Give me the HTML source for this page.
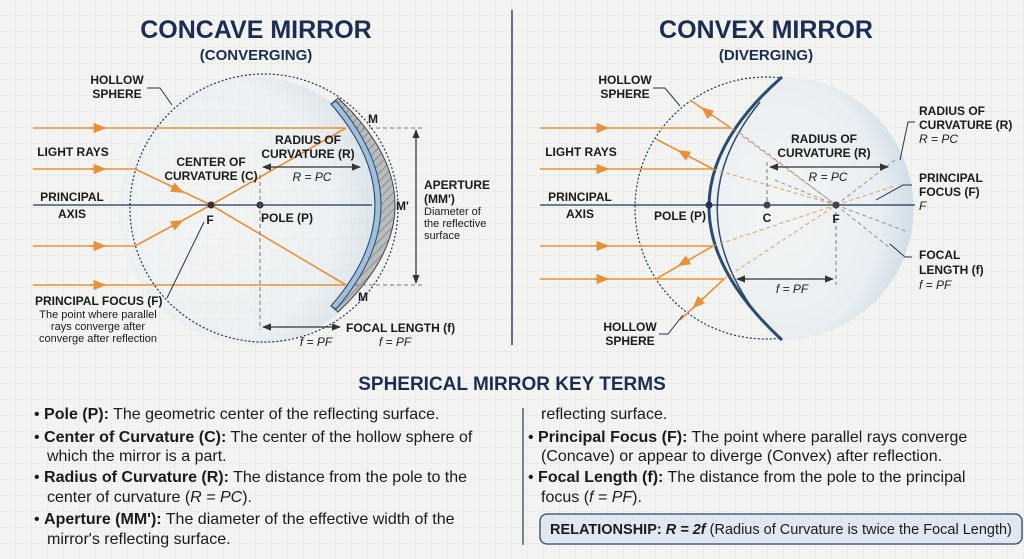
<!DOCTYPE html>
<html><head><meta charset="utf-8"><style>
html,body{margin:0;padding:0;width:1024px;height:559px;overflow:hidden;background:#f3f4f1}
svg{display:block}
text{font-family:"Liberation Sans",sans-serif}
.b{font-weight:bold}
.n{font-family:"Liberation Sans Narrow","Liberation Sans",sans-serif}
</style></head><body>
<svg width="1024" height="559" viewBox="0 0 1024 559" xmlns="http://www.w3.org/2000/svg">
<defs>
<pattern id="g" width="16" height="16" patternUnits="userSpaceOnUse"><path d="M16 0V16H0" fill="none" stroke="#e2e5e4" stroke-width="1"/></pattern>
<pattern id="h" width="6" height="6" patternUnits="userSpaceOnUse" patternTransform="rotate(45)"><rect width="6" height="6" fill="#b9bcbf"/><line x1="0" y1="0" x2="0" y2="6" stroke="#6b6e72" stroke-width="1.2"/></pattern>
<radialGradient id="lg" cx="0.35" cy="0.5" r="0.7"><stop offset="0" stop-color="#f3f5f4"/><stop offset="0.7" stop-color="#e9eef2"/><stop offset="1" stop-color="#c9d7e2"/></radialGradient>
<marker id="a" viewBox="0 0 10 10" refX="5" refY="5" markerWidth="8" markerHeight="8" orient="auto"><path d="M0 1L10 5L0 9z" fill="#e8913a"/></marker>
<marker id="k" viewBox="0 0 10 10" refX="9" refY="5" markerWidth="7" markerHeight="7" orient="auto-start-reverse"><path d="M0 1L10 5L0 9z" fill="#333"/></marker>
</defs>
<rect width="1024" height="559" fill="url(#g)"/>

<!-- titles -->
<text x="256" y="38" text-anchor="middle" class="b" font-size="25" fill="#1b2e52">CONCAVE MIRROR</text>
<text x="256" y="60" text-anchor="middle" class="b" font-size="15" fill="#1b2e52">(CONVERGING)</text>
<text x="766" y="38" text-anchor="middle" class="b" font-size="25" fill="#1b2e52">CONVEX MIRROR</text>
<text x="766" y="60" text-anchor="middle" class="b" font-size="15" fill="#1b2e52">(DIVERGING)</text>
<line x1="512" y1="10" x2="512" y2="345" stroke="#2f4563" stroke-width="1.5"/>

<!-- LEFT PANEL -->
<path d="M335 105 Q419 205 340 312 A134 134 0 1 1 335 105z" fill="url(#lg)" opacity="0.7"/>
<circle cx="264" cy="208" r="134" fill="none" stroke="#1e3556" stroke-width="1.2" stroke-dasharray="2 2"/>
<path d="M331 104 Q419 205 331 306 L338 312 Q452 205 338 98z" fill="url(#h)" stroke="#444" stroke-width="1"/>
<path d="M331 104 Q419 205 331 306 L336 309 Q426 205 336 101z" fill="#9ec0dc" stroke="#2c4a6c" stroke-width="1"/>
<line x1="33" y1="205" x2="372" y2="205" stroke="#1e3556" stroke-width="1.3"/>
<g stroke="#e8913a" stroke-width="1.6" fill="none">
<line x1="33" y1="128" x2="346" y2="128"/>
<line x1="33" y1="169" x2="135" y2="169"/>
<line x1="33" y1="246" x2="135" y2="246"/>
<line x1="33" y1="285" x2="346" y2="285"/>
<path d="M135 169 L211 205 L346 285"/>
<path d="M135 246 L211 205 L346 128"/>
</g>
<g stroke="#e8913a" stroke-width="1.6"><line x1="90" y1="128" x2="100" y2="128" marker-end="url(#a)"/><line x1="90" y1="169" x2="100" y2="169" marker-end="url(#a)"/><line x1="90" y1="246" x2="100" y2="246" marker-end="url(#a)"/><line x1="90" y1="285" x2="100" y2="285" marker-end="url(#a)"/><line x1="170" y1="186" x2="178" y2="190" marker-end="url(#a)"/><line x1="170" y1="227" x2="178" y2="223" marker-end="url(#a)"/></g>
<circle cx="211" cy="205" r="3.5" fill="#333"/><circle cx="260" cy="205" r="3.5" fill="#333"/>
<line x1="260" y1="175" x2="260" y2="330" stroke="#777" stroke-dasharray="4 3"/>
<line x1="263" y1="167" x2="360" y2="167" stroke="#333" stroke-width="1.3" marker-start="url(#k)" marker-end="url(#k)"/>
<line x1="263" y1="327" x2="340" y2="327" stroke="#333" stroke-width="1.3" marker-start="url(#k)" marker-end="url(#k)"/>
<g stroke="#777" stroke-dasharray="4 3"><line x1="355" y1="128" x2="422" y2="128"/><line x1="355" y1="285" x2="422" y2="285"/></g>
<line x1="416" y1="130" x2="416" y2="283" stroke="#333" stroke-width="1.3" marker-start="url(#k)" marker-end="url(#k)"/>
<path d="M147 88 L160 88 L172 105" fill="none" stroke="#1e3556"/>
<path d="M204 222 L167 298" fill="none" stroke="#1e3556"/>
<g class="b" font-size="12" fill="#1a1a1a">
<text x="117" y="84" text-anchor="middle">HOLLOW</text><text x="117" y="98" text-anchor="middle">SPHERE</text>
<text x="73" y="156" text-anchor="middle">LIGHT RAYS</text>
<text x="72" y="201" text-anchor="middle">PRINCIPAL</text><text x="72" y="218" text-anchor="middle">AXIS</text>
<text x="211" y="166" text-anchor="middle">CENTER OF</text><text x="211" y="180" text-anchor="middle">CURVATURE (C)</text>
<text x="308" y="144" text-anchor="middle">RADIUS OF</text><text x="308" y="158" text-anchor="middle">CURVATURE (R)</text>
<text x="210" y="224" text-anchor="middle">F</text>
<text x="261" y="222">POLE (P)</text>
<text x="368" y="123">M</text><text x="396" y="210">M'</text><text x="358" y="301">M</text>
<text x="424" y="189">APERTURE</text><text x="424" y="203">(MM')</text>
<text x="35" y="305">PRINCIPAL FOCUS (F)</text>
<text x="346" y="332">FOCAL LENGTH (f)</text>
</g>
<g font-size="11" fill="#1a1a1a"><text x="424" y="215">Diameter of</text><text x="424" y="227">the reflective</text><text x="424" y="239">surface</text>
<text x="98" y="318" text-anchor="middle">The point where parallel</text><text x="98" y="330" text-anchor="middle">rays converge after</text><text x="98" y="342" text-anchor="middle">converge after reflection</text></g>
<g font-size="12" font-style="italic" fill="#1a1a1a"><text x="312" y="181" text-anchor="middle">R = PC</text><text x="316" y="346" text-anchor="middle">f = PF</text><text x="395" y="346" text-anchor="middle">f = PF</text></g>

<!-- RIGHT PANEL -->
<circle cx="766" cy="208" r="131" fill="none" stroke="#1e3556" stroke-width="1.2" stroke-dasharray="2 2"/>
<path d="M782 77 Q636 205 782 340 A131 131 0 0 0 782 77z" fill="url(#lg)"/>
<path d="M782 77 Q636 205 782 340" fill="none" stroke="#2c4a6c" stroke-width="3"/>
<path d="M760 102 Q676 205 757 315" fill="none" stroke="#2c4a6c" stroke-width="1.5"/>
<line x1="540" y1="205" x2="915" y2="205" stroke="#1e3556" stroke-width="1.3"/>
<g stroke="#e8913a" stroke-width="1.6" fill="none">
<line x1="540" y1="128" x2="731" y2="128"/><line x1="540" y1="169" x2="713" y2="169"/>
<line x1="540" y1="246" x2="713" y2="246"/><line x1="540" y1="279" x2="724" y2="279"/>
<line x1="731" y1="128" x2="690" y2="100"/><line x1="713" y1="169" x2="656" y2="139"/>
<line x1="713" y1="246" x2="656" y2="279"/><line x1="724" y1="279" x2="680" y2="320"/>
</g>
<g stroke="#e8913a" stroke-width="1.6"><line x1="595" y1="128" x2="603" y2="128" marker-end="url(#a)"/><line x1="595" y1="169" x2="603" y2="169" marker-end="url(#a)"/><line x1="595" y1="246" x2="603" y2="246" marker-end="url(#a)"/><line x1="595" y1="279" x2="603" y2="279" marker-end="url(#a)"/>
<line x1="712" y1="116" x2="706" y2="111" marker-end="url(#a)"/><line x1="690" y1="157" x2="683" y2="153" marker-end="url(#a)"/><line x1="690" y1="259" x2="683" y2="263" marker-end="url(#a)"/><line x1="703" y1="298" x2="697" y2="304" marker-end="url(#a)"/></g>
<g stroke-dasharray="4 3" stroke-width="1" fill="none">
<line x1="731" y1="128" x2="836" y2="205" stroke="#e8a060"/><line x1="713" y1="169" x2="836" y2="205" stroke="#e8a060"/>
<line x1="713" y1="246" x2="836" y2="205" stroke="#e8a060"/><line x1="724" y1="279" x2="836" y2="205" stroke="#e8a060"/>
<line x1="836" y1="205" x2="895" y2="160" stroke="#8896a4"/><line x1="836" y1="205" x2="895" y2="186" stroke="#e8a060"/>
<line x1="836" y1="205" x2="908" y2="232" stroke="#8896a4"/><line x1="836" y1="205" x2="890" y2="248" stroke="#8896a4"/>
<line x1="740" y1="133" x2="836" y2="205" stroke="#8896a4"/><line x1="775" y1="180" x2="836" y2="205" stroke="#8896a4"/>
</g>
<line x1="767" y1="162" x2="767" y2="205" stroke="#777" stroke-dasharray="4 3"/>
<line x1="836" y1="205" x2="836" y2="285" stroke="#777" stroke-dasharray="4 3"/>
<line x1="770" y1="167" x2="888" y2="167" stroke="#333" stroke-width="1.3" marker-start="url(#k)" marker-end="url(#k)"/>
<line x1="737" y1="279" x2="833" y2="279" stroke="#333" stroke-width="1.3" marker-start="url(#k)" marker-end="url(#k)"/>
<circle cx="709" cy="205" r="3.5" fill="#1e3556"/><circle cx="767" cy="205" r="3.5" fill="#444"/><circle cx="836" cy="205" r="3.5" fill="#444"/>
<path d="M653 88 L665 88 L680 106" fill="none" stroke="#1e3556"/>
<path d="M659 334 L668 334 L683 315" fill="none" stroke="#1e3556"/>
<path d="M915 122 L908 122 L900 160" fill="none" stroke="#1e3556"/>
<path d="M912 185 L903 185 L876 200" fill="none" stroke="#1e3556"/>
<path d="M912 257 L905 257 L890 244" fill="none" stroke="#1e3556"/>
<g class="b" font-size="12" fill="#1a1a1a">
<text x="625" y="84" text-anchor="middle">HOLLOW</text><text x="625" y="98" text-anchor="middle">SPHERE</text>
<text x="581" y="156" text-anchor="middle">LIGHT RAYS</text>
<text x="580" y="201" text-anchor="middle">PRINCIPAL</text><text x="580" y="218" text-anchor="middle">AXIS</text>
<text x="680" y="220" text-anchor="middle">POLE (P)</text>
<text x="767" y="222" text-anchor="middle">C</text><text x="836" y="223" text-anchor="middle">F</text>
<text x="824" y="143" text-anchor="middle">RADIUS OF</text><text x="824" y="157" text-anchor="middle">CURVATURE (R)</text>
<text x="919" y="115">RADIUS OF</text><text x="919" y="129">CURVATURE (R)</text>
<text x="919" y="182">PRINCIPAL</text><text x="919" y="196">FOCUS (F)</text>
<text x="919" y="259">FOCAL</text><text x="919" y="274">LENGTH (f)</text>
<text x="630" y="331" text-anchor="middle">HOLLOW</text><text x="630" y="345" text-anchor="middle">SPHERE</text>
</g>
<g font-size="12" font-style="italic" fill="#1a1a1a"><text x="828" y="181" text-anchor="middle">R = PC</text><text x="792" y="293" text-anchor="middle">f = PF</text>
<text x="919" y="143">R = PC</text><text x="919" y="210">F</text><text x="919" y="289">f = PF</text></g>

<!-- KEY TERMS -->
<text x="512" y="390" text-anchor="middle" class="b" font-size="19" fill="#1b2e52">SPHERICAL MIRROR KEY TERMS</text>
<line x1="523" y1="408" x2="523" y2="545" stroke="#2f4563" stroke-width="1.3"/>
<g font-size="16" fill="#1a1a1a" class="n">
<text x="34" y="419">• <tspan class="b">Pole (P):</tspan> The geometric center of the reflecting surface.</text>
<text x="34" y="442">• <tspan class="b">Center of Curvature (C):</tspan> The center of the hollow sphere of</text>
<text x="47" y="461">which the mirror is a part.</text>
<text x="34" y="482">• <tspan class="b">Radius of Curvature (R):</tspan> The distance from the pole to the</text>
<text x="47" y="502">center of curvature (<tspan font-style="italic">R = PC</tspan>).</text>
<text x="34" y="524">• <tspan class="b">Aperture (MM'):</tspan> The diameter of the effective width of the</text>
<text x="47" y="544">mirror's reflecting surface.</text>
<text x="541" y="419">reflecting surface.</text>
<text x="528" y="442">• <tspan class="b">Principal Focus (F):</tspan> The point where parallel rays converge</text>
<text x="541" y="461">(Concave) or appear to diverge (Convex) after reflection.</text>
<text x="528" y="482">• <tspan class="b">Focal Length (f):</tspan> The distance from the pole to the principal</text>
<text x="541" y="502">focus (<tspan font-style="italic">f = PF</tspan>).</text>
</g>
<rect x="540" y="514" width="482" height="30" rx="7" fill="#dfe8f1" stroke="#2f4563" stroke-width="1.3"/>
<text x="550" y="534" font-size="14.5" fill="#1a1a1a" class="n"><tspan class="b">RELATIONSHIP:</tspan> <tspan font-style="italic" class="b">R = 2f</tspan> (Radius of Curvature is twice the Focal Length)</text>
</svg>
</body></html>
